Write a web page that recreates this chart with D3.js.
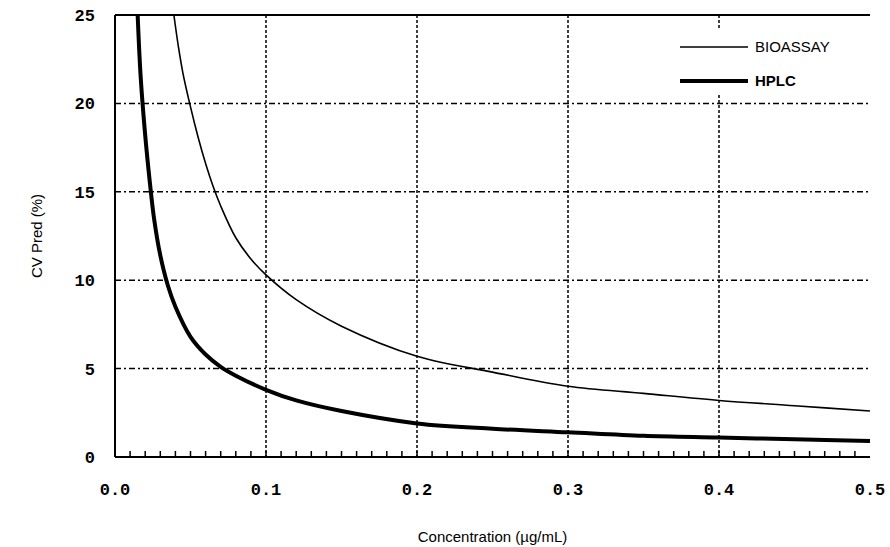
<!DOCTYPE html>
<html><head><meta charset="utf-8">
<script src="https://cdn.jsdelivr.net/npm/d3@7"></script>
<style>body{margin:0;background:#fff}</style>
</head><body><div id="chart"></div>
<script>
// data
var hplcX = [0.015, 0.017, 0.02, 0.023, 0.026, 0.03, 0.035, 0.04, 0.05, 0.06, 0.07, 0.08, 0.1, 0.12, 0.15, 0.2, 0.25, 0.3, 0.35, 0.4, 0.45, 0.5];
var hplcY = [25, 21.5, 18.2, 15.6, 13.4, 11.4, 9.7, 8.5, 6.8, 5.8, 5.1, 4.6, 3.8, 3.2, 2.6, 1.9, 1.6, 1.4, 1.2, 1.1, 1.0, 0.9];
var bioX = [0.039, 0.042, 0.045, 0.05, 0.055, 0.06, 0.065, 0.07, 0.08, 0.09, 0.1, 0.12, 0.15, 0.2, 0.25, 0.3, 0.35, 0.4, 0.45, 0.5];
var bioY = [25, 23.2, 21.7, 19.8, 18.1, 16.6, 15.3, 14.2, 12.4, 11.2, 10.3, 8.9, 7.4, 5.7, 4.8, 4.0, 3.6, 3.2, 2.9, 2.6];
var xTicks = [0, 0.1, 0.2, 0.3, 0.4, 0.5];
var yTicks = [0, 5, 10, 15, 20, 25];

var margin = {top: 15, right: 20, bottom: 90, left: 115},
    width = 890 - margin.left - margin.right,
    height = 547 - margin.top - margin.bottom;

var svg = d3.select("#chart").append("svg")
    .attr("width", 890).attr("height", 547)
  .append("g")
    .attr("transform", "translate(" + margin.left + "," + margin.top + ")");

var x = d3.scaleLinear().domain([0, 0.5]).range([0, width]);
var y = d3.scaleLinear().domain([0, 25]).range([height, 0]);

// grid
svg.selectAll(".vg").data(xTicks.slice(1, 5)).enter().append("line")
  .attr("x1", d => x(d)).attr("x2", d => x(d)).attr("y1", 0).attr("y2", height)
  .attr("stroke", "#000").attr("stroke-width", 1.5).attr("stroke-dasharray", "3,2");
svg.selectAll(".hg").data(yTicks.slice(1, 5)).enter().append("line")
  .attr("x1", 0).attr("x2", width).attr("y1", d => y(d)).attr("y2", d => y(d))
  .attr("stroke", "#000").attr("stroke-width", 1.5).attr("stroke-dasharray", "6,3,2,3");

// minor ticks
svg.selectAll(".mt").data(d3.range(1, 50).map(i => i / 100)).enter().append("line")
  .attr("x1", d => x(d)).attr("x2", d => x(d)).attr("y1", height).attr("y2", height - 6)
  .attr("stroke", "#000").attr("stroke-width", 1.5);

// frame
svg.append("line").attr("x1", 0).attr("x2", 0).attr("y1", 0).attr("y2", height).attr("stroke", "#000").attr("stroke-width", 2);
svg.append("line").attr("x1", 0).attr("x2", width).attr("y1", height).attr("y2", height).attr("stroke", "#000").attr("stroke-width", 2);
svg.append("line").attr("x1", 0).attr("x2", width).attr("y1", 0).attr("y2", 0).attr("stroke", "#000").attr("stroke-width", 2);

// tick labels
svg.selectAll(".xl").data(xTicks).enter().append("text")
  .attr("x", d => x(d)).attr("y", height + 38).attr("text-anchor", "middle")
  .style("font", "bold 17px 'Liberation Mono'").text(d => d.toFixed(1));
svg.selectAll(".yl").data(yTicks).enter().append("text")
  .attr("x", -20).attr("y", d => y(d) + 6).attr("text-anchor", "end")
  .style("font", "bold 17px 'Liberation Mono'").text(d => d);

// axis titles
svg.append("text").attr("x", x(0.25)).attr("y", height + 85).attr("text-anchor", "middle")
  .style("font", "15px 'Liberation Sans'").text("Concentration (\u00b5g/mL)");
svg.append("text").attr("transform", "translate(-73," + y(12.5) + ")rotate(-90)").attr("text-anchor", "middle")
  .style("font", "15px 'Liberation Sans'").text("CV Pred (%)");

// lines
var line = d3.line().x(d => x(d[0])).y(d => y(d[1])).curve(d3.curveCatmullRom);
svg.append("path").datum(d3.zip(bioX, bioY)).attr("d", line)
  .attr("fill", "none").attr("stroke", "#000").attr("stroke-width", 1.6);
svg.append("path").datum(d3.zip(hplcX, hplcY)).attr("d", line)
  .attr("fill", "none").attr("stroke", "#000").attr("stroke-width", 4);

// legend
svg.append("rect").attr("x", 562).attr("y", 15).attr("width", 190).attr("height", 65).attr("fill", "#fff");
svg.append("line").attr("x1", 565).attr("x2", 633).attr("y1", 32).attr("y2", 32).attr("stroke", "#000").attr("stroke-width", 1.6);
svg.append("line").attr("x1", 565).attr("x2", 633).attr("y1", 66).attr("y2", 66).attr("stroke", "#000").attr("stroke-width", 4);
svg.append("text").attr("x", 640).attr("y", 37).style("font", "15px 'Liberation Sans'").text("BIOASSAY");
svg.append("text").attr("x", 640).attr("y", 71).style("font", "bold 15px 'Liberation Sans'").text("HPLC");
</script></body></html>
